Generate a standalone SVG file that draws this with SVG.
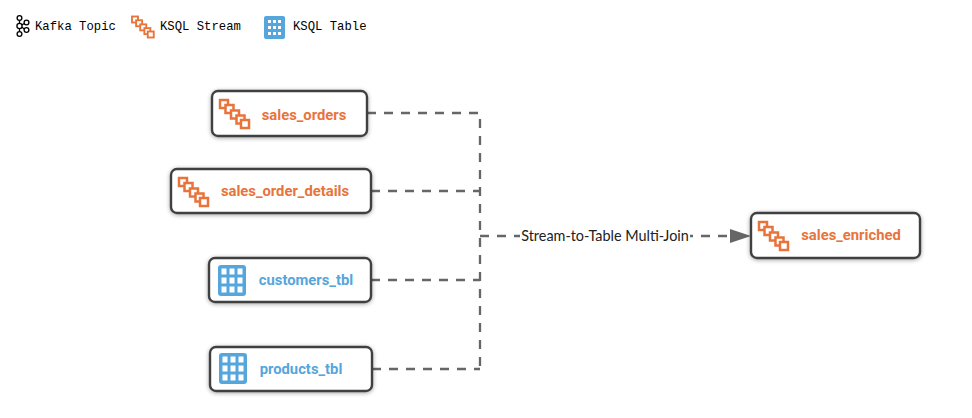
<svg xmlns="http://www.w3.org/2000/svg" width="972" height="418" viewBox="0 0 972 418">
<style>
.box{fill:#fff;stroke:#3f3f3f;stroke-width:2.4}
.lbl{font-family:Roboto,"Liberation Sans",sans-serif;font-weight:700;font-size:14.8px;text-anchor:middle}
.o{fill:#e8743b}.b{fill:#55a6dc}
.leg{font-family:"Liberation Mono",monospace;font-size:12.25px;fill:#000}
.c{fill:none;stroke:#666;stroke-width:2.300;stroke-dasharray:9 8}
.cl{font-family:Lato,"Open Sans",sans-serif;font-size:14.400px;fill:#222;text-anchor:middle}
.sq{fill:#fff;stroke:#e8743b;stroke-width:2.500}
</style>
<defs>
<filter id="sh" x="-10%" y="-20%" width="120%" height="140%"><feDropShadow dx="0" dy="1" stdDeviation="2" flood-color="#000" flood-opacity=".35"/></filter>
<g id="stream">
<rect class="sq" x="0" y="0" width="8" height="8"/>
<rect class="sq" x="5.500" y="5" width="8" height="8"/>
<rect class="sq" x="11" y="10.500" width="8" height="8"/>
<rect class="sq" x="16.500" y="15.500" width="8" height="8"/>
<rect class="sq" x="21" y="20" width="8" height="8"/>
</g>
<g id="table">
<rect width="28" height="31" rx="3" fill="#55a6dc"/>
<g fill="#fff">
<rect x="3.500" y="3.500" width="5" height="6"/><rect x="11.500" y="3.500" width="5" height="6"/><rect x="19.500" y="3.500" width="5" height="6"/>
<rect x="3.500" y="12.500" width="5" height="6"/><rect x="11.500" y="12.500" width="5" height="6"/><rect x="19.500" y="12.500" width="5" height="6"/>
<rect x="3.500" y="21.500" width="5" height="6"/><rect x="11.500" y="21.500" width="5" height="6"/><rect x="19.500" y="21.500" width="5" height="6"/>
</g>
</g>
<g id="table-small">
<rect width="21" height="23" rx="2" fill="#55a6dc"/>
<g fill="#fff">
<rect x="4" y="4" width="3" height="3"/><rect x="9" y="4" width="3" height="3"/><rect x="14" y="4" width="3" height="3"/>
<rect x="4" y="10" width="3" height="3"/><rect x="9" y="10" width="3" height="3"/><rect x="14" y="10" width="3" height="3"/>
<rect x="4" y="16" width="3" height="3"/><rect x="9" y="16" width="3" height="3"/><rect x="14" y="16" width="3" height="3"/>
</g>
</g>
<marker id="arr" markerUnits="userSpaceOnUse" markerWidth="22" markerHeight="16" refX="21" refY="7" orient="auto"><path d="M0 0L21 7L0 14Z" fill="#666"/></marker>
</defs>
<g id="legend">
<g id="legend-kafka" fill="none" stroke="#000" stroke-width="1.300">
<circle cx="19.500" cy="18" r="2.400"/><circle cx="19.500" cy="26" r="2.600"/><circle cx="19.500" cy="34" r="2.400"/><circle cx="26.500" cy="22.500" r="2.400"/><circle cx="26.500" cy="30" r="2.400"/>
<path d="M19.500 20.400V23.400M19.500 28.600V31.600M21.800 24.800L24.400 23.500M21.800 27.200L24.400 29"/>
</g>
<text class="leg" x="35" y="30">Kafka Topic</text>
<use href="#stream" transform="translate(132 16.500) scale(.75)"/>
<text class="leg" x="160" y="30">KSQL Stream</text>
<use href="#table-small" transform="translate(264 16)"/>
<text class="leg" x="293" y="30">KSQL Table</text>
</g>
<g id="connectors">
<path class="c" d="M367 113H480V369"/>
<path class="c" d="M371 191H480"/>
<path class="c" d="M371 280H480"/>
<path class="c" d="M372 369H480"/>
<path class="c" d="M480 236H751" marker-end="url(#arr)"/>
</g>
<g id="edge-label"><rect x="520" y="226" width="170" height="20" fill="#fff"/><text class="cl" x="605" y="241">Stream-to-Table Multi-Join</text></g>
<g id="sales_orders"><rect class="box" filter="url(#sh)" x="212" y="91" width="155" height="45" rx="6"/><use href="#stream" transform="translate(220 100)"/><text class="lbl o" x="304" y="120">sales_orders</text></g>
<g id="sales_order_details"><rect class="box" filter="url(#sh)" x="171" y="169" width="200" height="44" rx="6"/><use href="#stream" transform="translate(179 178)"/><text class="lbl o" x="285" y="196">sales_order_details</text></g>
<g id="customers_tbl"><rect class="box" filter="url(#sh)" x="209" y="258" width="162" height="44" rx="6"/><use href="#table" transform="translate(218 265)"/><text class="lbl b" x="306" y="285">customers_tbl</text></g>
<g id="products_tbl"><rect class="box" filter="url(#sh)" x="210" y="347" width="162" height="44" rx="6"/><use href="#table" transform="translate(219 353)"/><text class="lbl b" x="301" y="374">products_tbl</text></g>
<g id="sales_enriched"><rect class="box" filter="url(#sh)" x="751" y="213" width="169" height="45" rx="6"/><use href="#stream" transform="translate(759 222)"/><text class="lbl o" x="851" y="240">sales_enriched</text></g>
</svg>
